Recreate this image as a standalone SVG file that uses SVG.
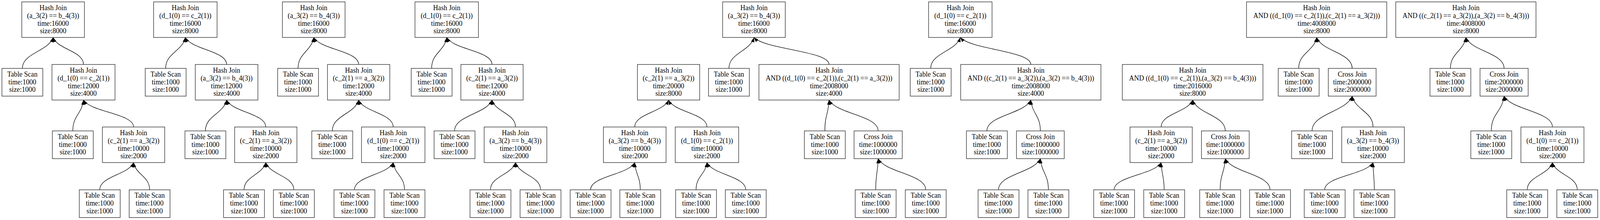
<svg xmlns="http://www.w3.org/2000/svg" width="4187" height="563" viewBox="0 0 4187 563">
<defs>
<style>
.b{fill:#fff;stroke:#222;stroke-width:1.3}
.t{font-family:"Liberation Serif","Times New Roman",serif;font-size:18px;text-anchor:middle;fill:#000}
.e{fill:none;stroke:#000;stroke-width:1.3;marker-end:url(#ah)}
</style>
<marker id="ah" markerUnits="userSpaceOnUse" markerWidth="14" markerHeight="12" viewBox="-13 -6 14 12" refX="0" refY="0" orient="auto" overflow="visible"><path d="M0,0 L-12,-4.5 L-12,4.5 z" fill="#000"/></marker>
</defs>
<rect width="4187" height="563" fill="#fff"/>
<g transform="scale(0.97827,1)">
<g id="connectors">
<path class="e" d="M58.5,175 C58.5,135.4 126.9,131.4 139,95.8"/>
<path class="e" d="M218.5,165 C218.5,130.4 150.9,126.9 139,95.8"/>
<path class="e" d="M190.5,335 C190.5,295.5 214.3,291.6 218.5,256"/>
<path class="e" d="M349.5,325 C349.5,290.5 238.2,287.1 218.5,256"/>
<path class="e" d="M261,485.7 C261,450.9 336.2,447.4 349.5,416"/>
<path class="e" d="M391.5,485.7 C391.5,450.9 355.8,447.4 349.5,416"/>
<path class="e" d="M433.5,175 C433.5,135.4 477.3,131.4 485,95.8"/>
<path class="e" d="M593,165 C593,130.4 501.2,126.9 485,95.8"/>
<path class="e" d="M537.5,335 C537.5,295.5 584.7,291.6 593,256"/>
<path class="e" d="M695.5,325 C695.5,290.5 608.4,287.1 593,256"/>
<path class="e" d="M638.5,485.7 C638.5,450.9 686.9,447.4 695.5,416"/>
<path class="e" d="M769,485.7 C769,450.9 706.5,447.4 695.5,416"/>
<path class="e" d="M780,175 C780,135.4 814.9,131.4 821,95.8"/>
<path class="e" d="M938.5,165 C938.5,130.4 838.6,126.9 821,95.8"/>
<path class="e" d="M869.5,335 C869.5,295.5 928.2,291.6 938.5,256"/>
<path class="e" d="M1029,325 C1029,290.5 952.1,287.1 938.5,256"/>
<path class="e" d="M927.5,485.7 C927.5,450.9 1013.8,447.4 1029,416"/>
<path class="e" d="M1058.5,485.7 C1058.5,450.9 1033.4,447.4 1029,416"/>
<path class="e" d="M1129.5,175 C1129.5,135.4 1163.1,131.4 1169,95.8"/>
<path class="e" d="M1287.5,165 C1287.5,130.4 1186.8,126.9 1169,95.8"/>
<path class="e" d="M1189.5,335 C1189.5,295.5 1272.8,291.6 1287.5,256"/>
<path class="e" d="M1349,325 C1349,290.5 1296.7,287.1 1287.5,256"/>
<path class="e" d="M1283.5,485.7 C1283.5,450.9 1339.2,447.4 1349,416"/>
<path class="e" d="M1414.5,485.7 C1414.5,450.9 1358.8,447.4 1349,416"/>
<path class="e" d="M1661,325 C1661,290.5 1736.2,287.1 1749.5,256"/>
<path class="e" d="M1850,325 C1850,290.5 1764.6,287.1 1749.5,256"/>
<path class="e" d="M1545.5,485.7 C1545.5,450.9 1643.7,447.4 1661,416"/>
<path class="e" d="M1675.5,485.7 C1675.5,450.9 1663.2,447.4 1661,416"/>
<path class="e" d="M1821.5,485.7 C1821.5,450.9 1845.7,447.4 1850,416"/>
<path class="e" d="M1951.5,485.7 C1951.5,450.9 1865.2,447.4 1850,416"/>
<path class="e" d="M1907.5,175 C1907.5,135.4 1963.2,131.4 1973,95.8"/>
<path class="e" d="M2169.5,165 C2169.5,130.4 2002.5,126.9 1973,95.8"/>
<path class="e" d="M2158.5,335 C2158.5,295.5 2167.9,291.6 2169.5,256"/>
<path class="e" d="M2298,335 C2298,295.5 2188.8,291.6 2169.5,256"/>
<path class="e" d="M2291.5,485.7 C2291.5,445.9 2297,441.9 2298,406"/>
<path class="e" d="M2422.5,485.7 C2422.5,445.9 2316.7,441.9 2298,406"/>
<path class="e" d="M2435.5,175 C2435.5,135.4 2501.4,131.4 2513,95.8"/>
<path class="e" d="M2697.5,165 C2697.5,130.4 2540.7,126.9 2513,95.8"/>
<path class="e" d="M2582.5,335 C2582.5,295.5 2680.3,291.6 2697.5,256"/>
<path class="e" d="M2722.5,335 C2722.5,295.5 2701.3,291.6 2697.5,256"/>
<path class="e" d="M2613,485.7 C2613,445.9 2706.1,441.9 2722.5,406"/>
<path class="e" d="M2743.5,485.7 C2743.5,445.9 2725.7,441.9 2722.5,406"/>
<path class="e" d="M3038.5,325 C3038.5,290.5 3108.6,287.1 3121,256"/>
<path class="e" d="M3206.5,335 C3206.5,295.5 3133.8,291.6 3121,256"/>
<path class="e" d="M2915.5,485.7 C2915.5,450.9 3020,447.4 3038.5,416"/>
<path class="e" d="M3046.5,485.7 C3046.5,450.9 3039.7,447.4 3038.5,416"/>
<path class="e" d="M3193,485.7 C3193,445.9 3204.5,441.9 3206.5,406"/>
<path class="e" d="M3323.5,485.7 C3323.5,445.9 3224,441.9 3206.5,406"/>
<path class="e" d="M3398.5,175 C3398.5,135.4 3438.5,131.4 3445.5,95.8"/>
<path class="e" d="M3538.5,175 C3538.5,135.4 3459.5,131.4 3445.5,95.8"/>
<path class="e" d="M3433.5,335 C3433.5,290.5 3522.8,286.1 3538.5,246"/>
<path class="e" d="M3593,325 C3593,285.5 3546.7,281.6 3538.5,246"/>
<path class="e" d="M3466.5,485.7 C3466.5,450.9 3574,447.4 3593,416"/>
<path class="e" d="M3596.5,485.7 C3596.5,450.9 3593.5,447.4 3593,416"/>
<path class="e" d="M3795.5,175 C3795.5,135.4 3829.9,131.4 3836,95.8"/>
<path class="e" d="M3936,175 C3936,135.4 3851,131.4 3836,95.8"/>
<path class="e" d="M3902.5,335 C3902.5,290.5 3931,286.1 3936,246"/>
<path class="e" d="M4062.5,325 C4062.5,285.5 3955,281.6 3936,246"/>
<path class="e" d="M3996.5,485.7 C3996.5,450.9 4052.6,447.4 4062.5,416"/>
<path class="e" d="M4127.5,485.7 C4127.5,450.9 4072.3,447.4 4062.5,416"/>
</g>

<!-- Tree 1 -->
<g id="p1_root" transform="translate(139,50.3)"><rect class="b" x="-82" y="-45.5" width="164" height="91"/><text class="t"><tspan x="0" y="-24.4">Hash Join</tspan><tspan x="0" y="-4.6">(a_3(2) == b_4(3))</tspan><tspan x="0" y="15.2">time:16000</tspan><tspan x="0" y="35">size:8000</tspan></text></g>
<g id="p1_scan1" transform="translate(58.5,210.5)"><rect class="b" x="-53.5" y="-35.5" width="107" height="71"/><text class="t"><tspan x="0" y="-14.8">Table Scan</tspan><tspan x="0" y="5">time:1000</tspan><tspan x="0" y="24.8">size:1000</tspan></text></g>
<g id="p1_join2" transform="translate(218.5,210.5)"><rect class="b" x="-82.5" y="-45.5" width="165" height="91"/><text class="t"><tspan x="0" y="-24.4">Hash Join</tspan><tspan x="0" y="-4.6">(d_1(0) == c_2(1))</tspan><tspan x="0" y="15.2">time:12000</tspan><tspan x="0" y="35">size:4000</tspan></text></g>
<g id="p1_scan2" transform="translate(190.5,370.5)"><rect class="b" x="-53.5" y="-35.5" width="107" height="71"/><text class="t"><tspan x="0" y="-14.8">Table Scan</tspan><tspan x="0" y="5">time:1000</tspan><tspan x="0" y="24.8">size:1000</tspan></text></g>
<g id="p1_join3" transform="translate(349.5,370.5)"><rect class="b" x="-81.5" y="-45.5" width="163" height="91"/><text class="t"><tspan x="0" y="-24.4">Hash Join</tspan><tspan x="0" y="-4.6">(c_2(1) == a_3(2))</tspan><tspan x="0" y="15.2">time:10000</tspan><tspan x="0" y="35">size:2000</tspan></text></g>
<g id="p1_scan3" transform="translate(261,521.2)"><rect class="b" x="-53.5" y="-35.5" width="107" height="71"/><text class="t"><tspan x="0" y="-14.8">Table Scan</tspan><tspan x="0" y="5">time:1000</tspan><tspan x="0" y="24.8">size:1000</tspan></text></g>
<g id="p1_scan4" transform="translate(391.5,521.2)"><rect class="b" x="-53.5" y="-35.5" width="107" height="71"/><text class="t"><tspan x="0" y="-14.8">Table Scan</tspan><tspan x="0" y="5">time:1000</tspan><tspan x="0" y="24.8">size:1000</tspan></text></g>

<!-- Tree 2 -->
<g id="p2_root" transform="translate(485,50.3)"><rect class="b" x="-83" y="-45.5" width="166" height="91"/><text class="t"><tspan x="0" y="-24.4">Hash Join</tspan><tspan x="0" y="-4.6">(d_1(0) == c_2(1))</tspan><tspan x="0" y="15.2">time:16000</tspan><tspan x="0" y="35">size:8000</tspan></text></g>
<g id="p2_scan1" transform="translate(433.5,210.5)"><rect class="b" x="-53.5" y="-35.5" width="107" height="71"/><text class="t"><tspan x="0" y="-14.8">Table Scan</tspan><tspan x="0" y="5">time:1000</tspan><tspan x="0" y="24.8">size:1000</tspan></text></g>
<g id="p2_join2" transform="translate(593,210.5)"><rect class="b" x="-82" y="-45.5" width="164" height="91"/><text class="t"><tspan x="0" y="-24.4">Hash Join</tspan><tspan x="0" y="-4.6">(a_3(2) == b_4(3))</tspan><tspan x="0" y="15.2">time:12000</tspan><tspan x="0" y="35">size:4000</tspan></text></g>
<g id="p2_scan2" transform="translate(537.5,370.5)"><rect class="b" x="-53.5" y="-35.5" width="107" height="71"/><text class="t"><tspan x="0" y="-14.8">Table Scan</tspan><tspan x="0" y="5">time:1000</tspan><tspan x="0" y="24.8">size:1000</tspan></text></g>
<g id="p2_join3" transform="translate(695.5,370.5)"><rect class="b" x="-81.5" y="-45.5" width="163" height="91"/><text class="t"><tspan x="0" y="-24.4">Hash Join</tspan><tspan x="0" y="-4.6">(c_2(1) == a_3(2))</tspan><tspan x="0" y="15.2">time:10000</tspan><tspan x="0" y="35">size:2000</tspan></text></g>
<g id="p2_scan3" transform="translate(638.5,521.2)"><rect class="b" x="-53.5" y="-35.5" width="107" height="71"/><text class="t"><tspan x="0" y="-14.8">Table Scan</tspan><tspan x="0" y="5">time:1000</tspan><tspan x="0" y="24.8">size:1000</tspan></text></g>
<g id="p2_scan4" transform="translate(769,521.2)"><rect class="b" x="-53.5" y="-35.5" width="107" height="71"/><text class="t"><tspan x="0" y="-14.8">Table Scan</tspan><tspan x="0" y="5">time:1000</tspan><tspan x="0" y="24.8">size:1000</tspan></text></g>

<!-- Tree 3 -->
<g id="p3_root" transform="translate(821,50.3)"><rect class="b" x="-82" y="-45.5" width="164" height="91"/><text class="t"><tspan x="0" y="-24.4">Hash Join</tspan><tspan x="0" y="-4.6">(a_3(2) == b_4(3))</tspan><tspan x="0" y="15.2">time:16000</tspan><tspan x="0" y="35">size:8000</tspan></text></g>
<g id="p3_scan1" transform="translate(780,210.5)"><rect class="b" x="-53.5" y="-35.5" width="107" height="71"/><text class="t"><tspan x="0" y="-14.8">Table Scan</tspan><tspan x="0" y="5">time:1000</tspan><tspan x="0" y="24.8">size:1000</tspan></text></g>
<g id="p3_join2" transform="translate(938.5,210.5)"><rect class="b" x="-81.5" y="-45.5" width="163" height="91"/><text class="t"><tspan x="0" y="-24.4">Hash Join</tspan><tspan x="0" y="-4.6">(c_2(1) == a_3(2))</tspan><tspan x="0" y="15.2">time:12000</tspan><tspan x="0" y="35">size:4000</tspan></text></g>
<g id="p3_scan2" transform="translate(869.5,370.5)"><rect class="b" x="-53.5" y="-35.5" width="107" height="71"/><text class="t"><tspan x="0" y="-14.8">Table Scan</tspan><tspan x="0" y="5">time:1000</tspan><tspan x="0" y="24.8">size:1000</tspan></text></g>
<g id="p3_join3" transform="translate(1029,370.5)"><rect class="b" x="-83" y="-45.5" width="166" height="91"/><text class="t"><tspan x="0" y="-24.4">Hash Join</tspan><tspan x="0" y="-4.6">(d_1(0) == c_2(1))</tspan><tspan x="0" y="15.2">time:10000</tspan><tspan x="0" y="35">size:2000</tspan></text></g>
<g id="p3_scan3" transform="translate(927.5,521.2)"><rect class="b" x="-53.5" y="-35.5" width="107" height="71"/><text class="t"><tspan x="0" y="-14.8">Table Scan</tspan><tspan x="0" y="5">time:1000</tspan><tspan x="0" y="24.8">size:1000</tspan></text></g>
<g id="p3_scan4" transform="translate(1058.5,521.2)"><rect class="b" x="-53.5" y="-35.5" width="107" height="71"/><text class="t"><tspan x="0" y="-14.8">Table Scan</tspan><tspan x="0" y="5">time:1000</tspan><tspan x="0" y="24.8">size:1000</tspan></text></g>

<!-- Tree 4 -->
<g id="p4_root" transform="translate(1169,50.3)"><rect class="b" x="-83" y="-45.5" width="166" height="91"/><text class="t"><tspan x="0" y="-24.4">Hash Join</tspan><tspan x="0" y="-4.6">(d_1(0) == c_2(1))</tspan><tspan x="0" y="15.2">time:16000</tspan><tspan x="0" y="35">size:8000</tspan></text></g>
<g id="p4_scan1" transform="translate(1129.5,210.5)"><rect class="b" x="-53.5" y="-35.5" width="107" height="71"/><text class="t"><tspan x="0" y="-14.8">Table Scan</tspan><tspan x="0" y="5">time:1000</tspan><tspan x="0" y="24.8">size:1000</tspan></text></g>
<g id="p4_join2" transform="translate(1287.5,210.5)"><rect class="b" x="-81.5" y="-45.5" width="163" height="91"/><text class="t"><tspan x="0" y="-24.4">Hash Join</tspan><tspan x="0" y="-4.6">(c_2(1) == a_3(2))</tspan><tspan x="0" y="15.2">time:12000</tspan><tspan x="0" y="35">size:4000</tspan></text></g>
<g id="p4_scan2" transform="translate(1189.5,370.5)"><rect class="b" x="-53.5" y="-35.5" width="107" height="71"/><text class="t"><tspan x="0" y="-14.8">Table Scan</tspan><tspan x="0" y="5">time:1000</tspan><tspan x="0" y="24.8">size:1000</tspan></text></g>
<g id="p4_join3" transform="translate(1349,370.5)"><rect class="b" x="-82" y="-45.5" width="164" height="91"/><text class="t"><tspan x="0" y="-24.4">Hash Join</tspan><tspan x="0" y="-4.6">(a_3(2) == b_4(3))</tspan><tspan x="0" y="15.2">time:10000</tspan><tspan x="0" y="35">size:2000</tspan></text></g>
<g id="p4_scan3" transform="translate(1283.5,521.2)"><rect class="b" x="-53.5" y="-35.5" width="107" height="71"/><text class="t"><tspan x="0" y="-14.8">Table Scan</tspan><tspan x="0" y="5">time:1000</tspan><tspan x="0" y="24.8">size:1000</tspan></text></g>
<g id="p4_scan4" transform="translate(1414.5,521.2)"><rect class="b" x="-53.5" y="-35.5" width="107" height="71"/><text class="t"><tspan x="0" y="-14.8">Table Scan</tspan><tspan x="0" y="5">time:1000</tspan><tspan x="0" y="24.8">size:1000</tspan></text></g>

<!-- Tree 5 -->
<g id="p5_root" transform="translate(1749.5,210.5)"><rect class="b" x="-81.5" y="-45.5" width="163" height="91"/><text class="t"><tspan x="0" y="-24.4">Hash Join</tspan><tspan x="0" y="-4.6">(c_2(1) == a_3(2))</tspan><tspan x="0" y="15.2">time:20000</tspan><tspan x="0" y="35">size:8000</tspan></text></g>
<g id="p5_joinL" transform="translate(1661,370.5)"><rect class="b" x="-82" y="-45.5" width="164" height="91"/><text class="t"><tspan x="0" y="-24.4">Hash Join</tspan><tspan x="0" y="-4.6">(a_3(2) == b_4(3))</tspan><tspan x="0" y="15.2">time:10000</tspan><tspan x="0" y="35">size:2000</tspan></text></g>
<g id="p5_joinR" transform="translate(1850,370.5)"><rect class="b" x="-83" y="-45.5" width="166" height="91"/><text class="t"><tspan x="0" y="-24.4">Hash Join</tspan><tspan x="0" y="-4.6">(d_1(0) == c_2(1))</tspan><tspan x="0" y="15.2">time:10000</tspan><tspan x="0" y="35">size:2000</tspan></text></g>
<g id="p5_scan1" transform="translate(1545.5,521.2)"><rect class="b" x="-53.5" y="-35.5" width="107" height="71"/><text class="t"><tspan x="0" y="-14.8">Table Scan</tspan><tspan x="0" y="5">time:1000</tspan><tspan x="0" y="24.8">size:1000</tspan></text></g>
<g id="p5_scan2" transform="translate(1675.5,521.2)"><rect class="b" x="-53.5" y="-35.5" width="107" height="71"/><text class="t"><tspan x="0" y="-14.8">Table Scan</tspan><tspan x="0" y="5">time:1000</tspan><tspan x="0" y="24.8">size:1000</tspan></text></g>
<g id="p5_scan3" transform="translate(1821.5,521.2)"><rect class="b" x="-53.5" y="-35.5" width="107" height="71"/><text class="t"><tspan x="0" y="-14.8">Table Scan</tspan><tspan x="0" y="5">time:1000</tspan><tspan x="0" y="24.8">size:1000</tspan></text></g>
<g id="p5_scan4" transform="translate(1951.5,521.2)"><rect class="b" x="-53.5" y="-35.5" width="107" height="71"/><text class="t"><tspan x="0" y="-14.8">Table Scan</tspan><tspan x="0" y="5">time:1000</tspan><tspan x="0" y="24.8">size:1000</tspan></text></g>

<!-- Tree 6 -->
<g id="p6_root" transform="translate(1973,50.3)"><rect class="b" x="-82" y="-45.5" width="164" height="91"/><text class="t"><tspan x="0" y="-24.4">Hash Join</tspan><tspan x="0" y="-4.6">(a_3(2) == b_4(3))</tspan><tspan x="0" y="15.2">time:16000</tspan><tspan x="0" y="35">size:8000</tspan></text></g>
<g id="p6_scan1" transform="translate(1907.5,210.5)"><rect class="b" x="-53.5" y="-35.5" width="107" height="71"/><text class="t"><tspan x="0" y="-14.8">Table Scan</tspan><tspan x="0" y="5">time:1000</tspan><tspan x="0" y="24.8">size:1000</tspan></text></g>
<g id="p6_join2" transform="translate(2169.5,210.5)"><rect class="b" x="-183.5" y="-45.5" width="367" height="91"/><text class="t"><tspan x="0" y="-24.4">Hash Join</tspan><tspan x="0" y="-4.6">AND ((d_1(0) == c_2(1)),(c_2(1) == a_3(2)))</tspan><tspan x="0" y="15.2">time:2008000</tspan><tspan x="0" y="35">size:4000</tspan></text></g>
<g id="p6_scan2" transform="translate(2158.5,370.5)"><rect class="b" x="-53.5" y="-35.5" width="107" height="71"/><text class="t"><tspan x="0" y="-14.8">Table Scan</tspan><tspan x="0" y="5">time:1000</tspan><tspan x="0" y="24.8">size:1000</tspan></text></g>
<g id="p6_cross" transform="translate(2298,370.5)"><rect class="b" x="-63" y="-35.5" width="126" height="71"/><text class="t"><tspan x="0" y="-14.8">Cross Join</tspan><tspan x="0" y="5">time:1000000</tspan><tspan x="0" y="24.8">size:1000000</tspan></text></g>
<g id="p6_scan3" transform="translate(2291.5,521.2)"><rect class="b" x="-53.5" y="-35.5" width="107" height="71"/><text class="t"><tspan x="0" y="-14.8">Table Scan</tspan><tspan x="0" y="5">time:1000</tspan><tspan x="0" y="24.8">size:1000</tspan></text></g>
<g id="p6_scan4" transform="translate(2422.5,521.2)"><rect class="b" x="-53.5" y="-35.5" width="107" height="71"/><text class="t"><tspan x="0" y="-14.8">Table Scan</tspan><tspan x="0" y="5">time:1000</tspan><tspan x="0" y="24.8">size:1000</tspan></text></g>

<!-- Tree 7 -->
<g id="p7_root" transform="translate(2513,50.3)"><rect class="b" x="-83" y="-45.5" width="166" height="91"/><text class="t"><tspan x="0" y="-24.4">Hash Join</tspan><tspan x="0" y="-4.6">(d_1(0) == c_2(1))</tspan><tspan x="0" y="15.2">time:16000</tspan><tspan x="0" y="35">size:8000</tspan></text></g>
<g id="p7_scan1" transform="translate(2435.5,210.5)"><rect class="b" x="-53.5" y="-35.5" width="107" height="71"/><text class="t"><tspan x="0" y="-14.8">Table Scan</tspan><tspan x="0" y="5">time:1000</tspan><tspan x="0" y="24.8">size:1000</tspan></text></g>
<g id="p7_join2" transform="translate(2697.5,210.5)"><rect class="b" x="-183.5" y="-45.5" width="367" height="91"/><text class="t"><tspan x="0" y="-24.4">Hash Join</tspan><tspan x="0" y="-4.6">AND ((c_2(1) == a_3(2)),(a_3(2) == b_4(3)))</tspan><tspan x="0" y="15.2">time:2008000</tspan><tspan x="0" y="35">size:4000</tspan></text></g>
<g id="p7_scan2" transform="translate(2582.5,370.5)"><rect class="b" x="-53.5" y="-35.5" width="107" height="71"/><text class="t"><tspan x="0" y="-14.8">Table Scan</tspan><tspan x="0" y="5">time:1000</tspan><tspan x="0" y="24.8">size:1000</tspan></text></g>
<g id="p7_cross" transform="translate(2722.5,370.5)"><rect class="b" x="-62.5" y="-35.5" width="125" height="71"/><text class="t"><tspan x="0" y="-14.8">Cross Join</tspan><tspan x="0" y="5">time:1000000</tspan><tspan x="0" y="24.8">size:1000000</tspan></text></g>
<g id="p7_scan3" transform="translate(2613,521.2)"><rect class="b" x="-53.5" y="-35.5" width="107" height="71"/><text class="t"><tspan x="0" y="-14.8">Table Scan</tspan><tspan x="0" y="5">time:1000</tspan><tspan x="0" y="24.8">size:1000</tspan></text></g>
<g id="p7_scan4" transform="translate(2743.5,521.2)"><rect class="b" x="-53.5" y="-35.5" width="107" height="71"/><text class="t"><tspan x="0" y="-14.8">Table Scan</tspan><tspan x="0" y="5">time:1000</tspan><tspan x="0" y="24.8">size:1000</tspan></text></g>

<!-- Tree 8 -->
<g id="p8_root" transform="translate(3121,210.5)"><rect class="b" x="-184" y="-45.5" width="368" height="91"/><text class="t"><tspan x="0" y="-24.4">Hash Join</tspan><tspan x="0" y="-4.6">AND ((d_1(0) == c_2(1)),(a_3(2) == b_4(3)))</tspan><tspan x="0" y="15.2">time:2016000</tspan><tspan x="0" y="35">size:8000</tspan></text></g>
<g id="p8_join" transform="translate(3038.5,370.5)"><rect class="b" x="-81.5" y="-45.5" width="163" height="91"/><text class="t"><tspan x="0" y="-24.4">Hash Join</tspan><tspan x="0" y="-4.6">(c_2(1) == a_3(2))</tspan><tspan x="0" y="15.2">time:10000</tspan><tspan x="0" y="35">size:2000</tspan></text></g>
<g id="p8_cross" transform="translate(3206.5,370.5)"><rect class="b" x="-62.5" y="-35.5" width="125" height="71"/><text class="t"><tspan x="0" y="-14.8">Cross Join</tspan><tspan x="0" y="5">time:1000000</tspan><tspan x="0" y="24.8">size:1000000</tspan></text></g>
<g id="p8_scan1" transform="translate(2915.5,521.2)"><rect class="b" x="-53.5" y="-35.5" width="107" height="71"/><text class="t"><tspan x="0" y="-14.8">Table Scan</tspan><tspan x="0" y="5">time:1000</tspan><tspan x="0" y="24.8">size:1000</tspan></text></g>
<g id="p8_scan2" transform="translate(3046.5,521.2)"><rect class="b" x="-53.5" y="-35.5" width="107" height="71"/><text class="t"><tspan x="0" y="-14.8">Table Scan</tspan><tspan x="0" y="5">time:1000</tspan><tspan x="0" y="24.8">size:1000</tspan></text></g>
<g id="p8_scan3" transform="translate(3193,521.2)"><rect class="b" x="-53.5" y="-35.5" width="107" height="71"/><text class="t"><tspan x="0" y="-14.8">Table Scan</tspan><tspan x="0" y="5">time:1000</tspan><tspan x="0" y="24.8">size:1000</tspan></text></g>
<g id="p8_scan4" transform="translate(3323.5,521.2)"><rect class="b" x="-53.5" y="-35.5" width="107" height="71"/><text class="t"><tspan x="0" y="-14.8">Table Scan</tspan><tspan x="0" y="5">time:1000</tspan><tspan x="0" y="24.8">size:1000</tspan></text></g>

<!-- Tree 9 -->
<g id="p9_root" transform="translate(3445.5,50.3)"><rect class="b" x="-183.5" y="-45.5" width="367" height="91"/><text class="t"><tspan x="0" y="-24.4">Hash Join</tspan><tspan x="0" y="-4.6">AND ((d_1(0) == c_2(1)),(c_2(1) == a_3(2)))</tspan><tspan x="0" y="15.2">time:4008000</tspan><tspan x="0" y="35">size:8000</tspan></text></g>
<g id="p9_scan1" transform="translate(3398.5,210.5)"><rect class="b" x="-53.5" y="-35.5" width="107" height="71"/><text class="t"><tspan x="0" y="-14.8">Table Scan</tspan><tspan x="0" y="5">time:1000</tspan><tspan x="0" y="24.8">size:1000</tspan></text></g>
<g id="p9_cross" transform="translate(3538.5,210.5)"><rect class="b" x="-62.5" y="-35.5" width="125" height="71"/><text class="t"><tspan x="0" y="-14.8">Cross Join</tspan><tspan x="0" y="5">time:2000000</tspan><tspan x="0" y="24.8">size:2000000</tspan></text></g>
<g id="p9_scan2" transform="translate(3433.5,370.5)"><rect class="b" x="-53.5" y="-35.5" width="107" height="71"/><text class="t"><tspan x="0" y="-14.8">Table Scan</tspan><tspan x="0" y="5">time:1000</tspan><tspan x="0" y="24.8">size:1000</tspan></text></g>
<g id="p9_join" transform="translate(3593,370.5)"><rect class="b" x="-82" y="-45.5" width="164" height="91"/><text class="t"><tspan x="0" y="-24.4">Hash Join</tspan><tspan x="0" y="-4.6">(a_3(2) == b_4(3))</tspan><tspan x="0" y="15.2">time:10000</tspan><tspan x="0" y="35">size:2000</tspan></text></g>
<g id="p9_scan3" transform="translate(3466.5,521.2)"><rect class="b" x="-53.5" y="-35.5" width="107" height="71"/><text class="t"><tspan x="0" y="-14.8">Table Scan</tspan><tspan x="0" y="5">time:1000</tspan><tspan x="0" y="24.8">size:1000</tspan></text></g>
<g id="p9_scan4" transform="translate(3596.5,521.2)"><rect class="b" x="-53.5" y="-35.5" width="107" height="71"/><text class="t"><tspan x="0" y="-14.8">Table Scan</tspan><tspan x="0" y="5">time:1000</tspan><tspan x="0" y="24.8">size:1000</tspan></text></g>

<!-- Tree 10 -->
<g id="p10_root" transform="translate(3836,50.3)"><rect class="b" x="-183.5" y="-45.5" width="367" height="91"/><text class="t"><tspan x="0" y="-24.4">Hash Join</tspan><tspan x="0" y="-4.6">AND ((c_2(1) == a_3(2)),(a_3(2) == b_4(3)))</tspan><tspan x="0" y="15.2">time:4008000</tspan><tspan x="0" y="35">size:8000</tspan></text></g>
<g id="p10_scan1" transform="translate(3795.5,210.5)"><rect class="b" x="-53.5" y="-35.5" width="107" height="71"/><text class="t"><tspan x="0" y="-14.8">Table Scan</tspan><tspan x="0" y="5">time:1000</tspan><tspan x="0" y="24.8">size:1000</tspan></text></g>
<g id="p10_cross" transform="translate(3936,210.5)"><rect class="b" x="-63" y="-35.5" width="126" height="71"/><text class="t"><tspan x="0" y="-14.8">Cross Join</tspan><tspan x="0" y="5">time:2000000</tspan><tspan x="0" y="24.8">size:2000000</tspan></text></g>
<g id="p10_scan2" transform="translate(3902.5,370.5)"><rect class="b" x="-53.5" y="-35.5" width="107" height="71"/><text class="t"><tspan x="0" y="-14.8">Table Scan</tspan><tspan x="0" y="5">time:1000</tspan><tspan x="0" y="24.8">size:1000</tspan></text></g>
<g id="p10_join" transform="translate(4062.5,370.5)"><rect class="b" x="-82.5" y="-45.5" width="165" height="91"/><text class="t"><tspan x="0" y="-24.4">Hash Join</tspan><tspan x="0" y="-4.6">(d_1(0) == c_2(1))</tspan><tspan x="0" y="15.2">time:10000</tspan><tspan x="0" y="35">size:2000</tspan></text></g>
<g id="p10_scan3" transform="translate(3996.5,521.2)"><rect class="b" x="-53.5" y="-35.5" width="107" height="71"/><text class="t"><tspan x="0" y="-14.8">Table Scan</tspan><tspan x="0" y="5">time:1000</tspan><tspan x="0" y="24.8">size:1000</tspan></text></g>
<g id="p10_scan4" transform="translate(4127.5,521.2)"><rect class="b" x="-53.5" y="-35.5" width="107" height="71"/><text class="t"><tspan x="0" y="-14.8">Table Scan</tspan><tspan x="0" y="5">time:1000</tspan><tspan x="0" y="24.8">size:1000</tspan></text></g>
</g>
</svg>
